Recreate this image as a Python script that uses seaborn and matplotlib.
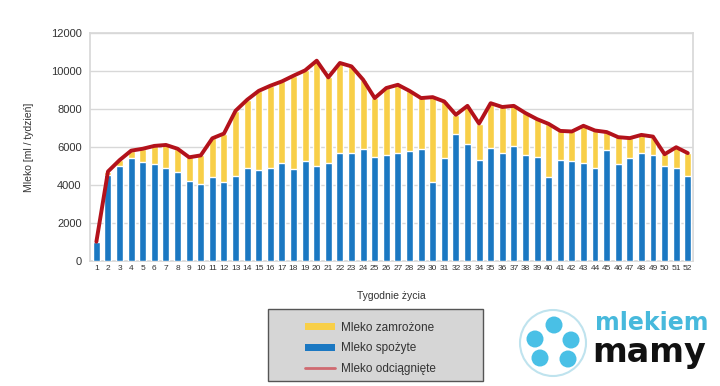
import matplotlib
matplotlib.use("Agg")
import matplotlib.pyplot as plt
from matplotlib.patches import Rectangle, Circle, Patch
from matplotlib.lines import Line2D
import seaborn as sns
import pandas as pd
import numpy as np

weeks = list(range(1, 53))
spozyte = [1000, 4500, 5000, 5400, 5200, 5100, 4900, 4650, 4200, 4050,
           4400, 4150, 4450, 4900, 4800, 4900, 5170, 4820, 5240, 5000,
           5170, 5670, 5700, 5900, 5440, 5560, 5670, 5790, 5910, 4140,
           5420, 6670, 6140, 5330, 5930, 5700, 6020, 5580, 5490, 4430,
           5310, 5260, 5140, 4910, 5840, 5100, 5400, 5670, 5580, 5010,
           4910, 4470]
odciagniete = [1000, 4700, 5300, 5800, 5900, 6050, 6100, 5900, 5450, 5550,
               6450, 6700, 7900, 8480, 8950, 9220, 9450, 9750, 10030, 10540,
               9660, 10420, 10240, 9540, 8570, 9100, 9270, 8950, 8570, 8620,
               8390, 7690, 8160, 7230, 8300, 8100, 8160, 7780, 7460, 7210,
               6840, 6810, 7110, 6860, 6780, 6510, 6460, 6630, 6540, 5610,
               5980, 5670]

df = pd.DataFrame({"week": weeks, "spozyte": spozyte, "odciagniete": odciagniete})

blue = "#1b78c2"
yellow = "#f8cf48"
red = "#b3121b"
txt = "#333333"

sns.set_theme(style="white")
plt.rcParams["font.family"] = ["Liberation Sans", "DejaVu Sans"]

fig = plt.figure(figsize=(7.2, 3.86), dpi=100)
ax = fig.add_axes([90 / 720, 1 - 260.7 / 386, 603 / 720, 227.7 / 386])

# yellow = total, blue drawn over it -> stacked look
sns.barplot(data=df, x="week", y="odciagniete", color=yellow, width=0.6,
            saturation=1, ax=ax, zorder=2)
sns.barplot(data=df, x="week", y="spozyte", color=blue, width=0.6,
            saturation=1, ax=ax, zorder=3)
sns.lineplot(x=df.index, y=df["odciagniete"], color=red, linewidth=2.8,
             ax=ax, zorder=4)

ax.set_xlim(-0.55, 51.45)
ax.set_ylim(0, 12000)
ax.set_yticks(range(0, 12001, 2000))
ax.yaxis.grid(True, color="#d8d8d8", linewidth=1)
ax.set_axisbelow(True)
for s in ax.spines.values():
    s.set_color("#d8d8d8")
ax.tick_params(axis="x", labelsize=6, colors=txt, length=0, pad=3)
ax.tick_params(axis="y", labelsize=8, colors=txt, length=0, pad=6)
ax.set_xlabel("Tygodnie życia", fontsize=7.5, color=txt, labelpad=14)
ax.set_ylabel("Mleko [ml / tydzień]", fontsize=7.5, color=txt, labelpad=12)

# legend box
fig.patches.append(Rectangle((268 / 720, 1 - 381 / 386), 215 / 720, 72 / 386,
                             transform=fig.transFigure, facecolor="#d6d6d6",
                             edgecolor="#555555", linewidth=1))
handles = [Patch(facecolor=yellow, edgecolor="none"),
           Patch(facecolor=blue, edgecolor="none"),
           Line2D([0], [0], color="#d06a70", linewidth=2)]
labels = ["Mleko zamrożone", "Mleko spożyte", "Mleko odciągnięte"]
fig.legend(handles, labels, loc="upper left",
           bbox_to_anchor=(294 / 720, 1 - 311 / 386), frameon=False,
           fontsize=8.5, handlelength=2.6, handleheight=0.6,
           handletextpad=0.5, labelspacing=0.75, labelcolor=txt)

# logo
lg = fig.add_axes([500 / 720, 0, 220 / 720, 96 / 386])
lg.set_xlim(0, 220)
lg.set_ylim(96, 0)
lg.axis("off")
lg.add_patch(Circle((53, 53), 33, facecolor="white", edgecolor="#bfe3ee", linewidth=1.5))
for cx, cy in [(54, 35), (35, 49), (71, 50), (40, 68), (68, 69)]:
    lg.add_patch(Circle((cx, cy), 8.5, facecolor="#49c0e6", edgecolor="none"))
lg.text(95, 40, "mlekiem", fontsize=17, color="#47b9dc", fontweight="bold",
        va="baseline", ha="left", family="DejaVu Sans")
lg.text(92, 72, "mamy", fontsize=24, color="#111111", fontweight="bold",
        va="baseline", ha="left", family="DejaVu Sans")

fig.savefig("out.png", dpi=100)
